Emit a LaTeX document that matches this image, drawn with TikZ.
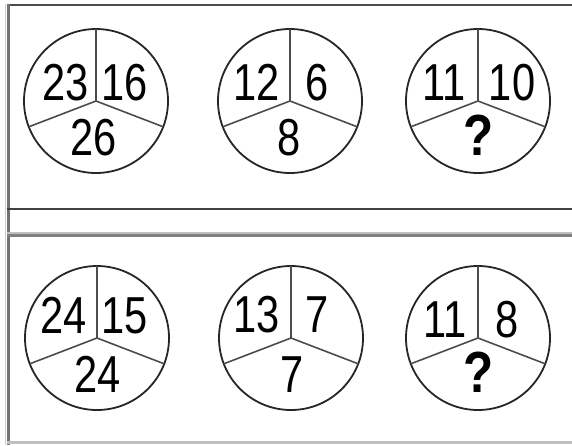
\documentclass[tikz,border=0pt]{standalone}
\usepackage{fontspec}
\setmainfont{Liberation Sans}
\begin{document}
\begin{tikzpicture}[x=1pt,y=-1pt,
  ring/.style={draw=black!85,line width=1.8pt},
  spoke/.style={draw=black!70,line width=1.6pt},
  num/.style={anchor=base,inner sep=0pt,font=\fontsize{52}{52}\selectfont},
  qm/.style={anchor=base,inner sep=0pt,font=\fontsize{58}{58}\selectfont\bfseries}]
\useasboundingbox (0,0) rectangle (572,445);
% frame lines
\draw[black!70,line width=2.5pt] (7,5) -- (572,5);
\draw[black!55,line width=3pt] (8,4) -- (8,445);
\draw[black!20,line width=1pt] (5,4) -- (5,445);
\draw[black!75,line width=2.8pt] (7,209) -- (572,209);
\draw[black!25,line width=2pt] (7,233) -- (572,233);
\draw[black!50,line width=2.5pt] (7,235.5) -- (572,235.5);
\draw[black!25,line width=3pt] (7,442) -- (572,442);
% circles
\foreach \n/\cx/\cy in {a/96/101,b/290/101,c/478/101,d/97/338,e/291/338,f/478/338}{
  \coordinate (\n) at (\cx,\cy);
  \draw[ring] (\n) circle (72);
  \draw[spoke] (\n) -- ++(0,-72);
  \draw[spoke] (\n) -- ++(-67.2,25.8);
  \draw[spoke] (\n) -- ++(67.2,25.8);
}
% top row
\node[num] (a1) at ([shift={(-30,-1)}]a) {\scalebox{0.8}[1]{23}};
\node[num] (a2) at ([shift={(29,-1)}]a) {\scalebox{0.8}[1]{16}};
\node[num] (a3) at ([shift={(-2,54)}]a) {\scalebox{0.8}[1]{26}};
\node[num] (b1) at ([shift={(-33,-1)}]b) {\scalebox{0.8}[1]{12}};
\node[num] (b2) at ([shift={(27,-1)}]b) {\scalebox{0.8}[1]{6}};
\node[num] (b3) at ([shift={(-1,54)}]b) {\scalebox{0.8}[1]{8}};
\node[num] (c1) at ([shift={(-34,-1)}]c) {\scalebox{0.8}[1]{11}};
\node[num] (c2) at ([shift={(34,-1)}]c) {\scalebox{0.8}[1]{10}};
\node[qm] (c3) at ([shift={(1,54)}]c) {\scalebox{0.85}[1]{?}};
% bottom row
\node[num] (d1) at ([shift={(-33,-5)}]d) {\scalebox{0.8}[1]{24}};
\node[num] (d2) at ([shift={(28,-5)}]d) {\scalebox{0.8}[1]{15}};
\node[num] (d3) at ([shift={(1,54)}]d) {\scalebox{0.8}[1]{24}};
\node[num] (e1) at ([shift={(-34,-6)}]e) {\scalebox{0.8}[1]{13}};
\node[num] (e2) at ([shift={(26,-6)}]e) {\scalebox{0.8}[1]{7}};
\node[num] (e3) at ([shift={(1,54)}]e) {\scalebox{0.8}[1]{7}};
\node[num] (f1) at ([shift={(-33,-1)}]f) {\scalebox{0.8}[1]{11}};
\node[num] (f2) at ([shift={(29,-1)}]f) {\scalebox{0.8}[1]{8}};
\node[qm] (f3) at ([shift={(1,54)}]f) {\scalebox{0.85}[1]{?}};
\end{tikzpicture}
\end{document}
